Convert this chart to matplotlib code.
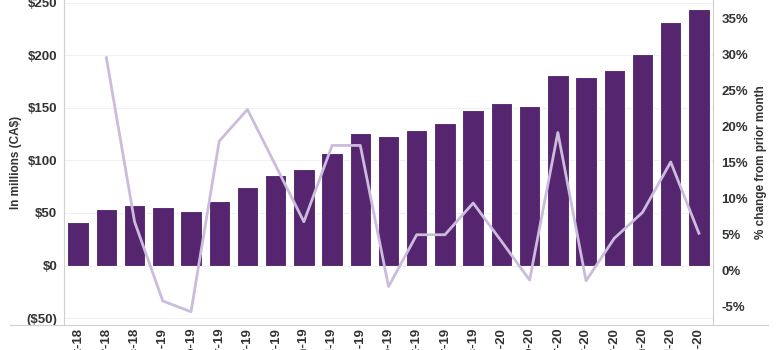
import numpy as np
import matplotlib.pyplot as plt
from matplotlib.lines import Line2D
from matplotlib.ticker import FuncFormatter

plt.rcParams['font.family'] = ['Liberation Sans Narrow', 'Liberation Sans', 'DejaVu Sans']

# Monthly values in millions (CA$) and month-over-month change (%)
months = ['Oct-18', 'Nov-18', 'Dec-18', 'Jan-19', 'Feb-19', 'Mar-19', 'Apr-19',
          'May-19', 'Jun-19', 'Jul-19', 'Aug-19', 'Sep-19', 'Oct-19', 'Nov-19',
          'Dec-19', 'Jan-20', 'Feb-20', 'Mar-20', 'Apr-20', 'May-20', 'Jun-20',
          'Jul-20', 'Aug-20']
amount = [41.4, 53.9, 57.3, 55.4, 51.7, 61.4, 74.8, 85.7, 91.6, 107.5, 126.5,
          123.1, 129.3, 135.2, 148.3, 154.2, 152.0, 181.0, 179.2, 186.3, 201.6,
          231.8, 244.0]
pct_change = [np.nan, 29.6, 6.8, -4.2, -5.7, 18.0, 22.4, 14.6, 6.8, 17.4, 17.4,
              -2.2, 5.0, 5.0, 9.4, 4.1, -1.3, 19.2, -1.4, 4.5, 8.1, 15.1, 5.2]
last_label = '$244M'

bar_color = '#55256f'
line_color = '#cbbcdc'
text_color = '#333333'

fig = plt.figure(figsize=(7.78, 3.5), dpi=100)
ax = fig.add_axes([0.0823, 0.0714, 0.8342, 0.9286])
x = np.arange(len(months))

ax.bar(x, amount, width=0.76, color=bar_color, edgecolor='white', linewidth=0.8, zorder=2)
ax.set_xlim(-0.5, len(months) - 0.5)
ax.set_ylim(-56.5, 252.5)
ax.set_yticks([-50, 0, 50, 100, 150, 200, 250])

def money(v, pos):
    return '(${:.0f})'.format(-v) if v < 0 else '${:.0f}'.format(v)

ax.yaxis.set_major_formatter(FuncFormatter(money))
ax.grid(axis='y', color='#f0f0f0', linewidth=0.8, zorder=0)
ax.axhline(0, color='#cccccc', linewidth=0.6, linestyle=':', zorder=1)
ax.set_xticks(x)
ax.set_xticklabels(months, rotation=90, fontsize=9.5, fontweight='bold', color=text_color)
ax.tick_params(axis='x', length=0, pad=2)
ax.tick_params(axis='y', length=0, pad=5, labelsize=9.5, labelcolor=text_color)
for t in ax.get_yticklabels():
    t.set_fontweight('bold')
ax.set_ylabel('In millions (CA$)', fontsize=8.5, fontweight='bold', color=text_color, labelpad=3)

for side in ['top', 'bottom', 'right']:
    ax.spines[side].set_visible(False)
ax.spines['left'].set_color('#d0d0d0')

ax.text(x[-1], amount[-1] + 8, last_label, ha='center', va='bottom',
        fontsize=9, fontweight='bold', color=text_color)

# Percent change on the secondary axis
ax2 = ax.twinx()
ax2.plot(x, pct_change, color=line_color, linewidth=2, zorder=3)
ax2.set_ylim(-7.54, 37.6)
ax2.set_yticks([-5, 0, 5, 10, 15, 20, 25, 30, 35])
ax2.yaxis.set_major_formatter(FuncFormatter(lambda v, p: '{:.0f}%'.format(v)))
ax2.tick_params(axis='y', length=0, pad=6, labelsize=9.5, labelcolor=text_color)
for t in ax2.get_yticklabels():
    t.set_fontweight('bold')
ax2.set_ylabel('% change from prior month', fontsize=8.5, fontweight='bold',
               color=text_color, rotation=90, labelpad=5)
for side in ['top', 'bottom', 'left']:
    ax2.spines[side].set_visible(False)
ax2.spines['right'].set_color('#d0d0d0')

# Baseline running under the whole chart
fig.add_artist(Line2D([0.013, 0.987], [0.0714, 0.0714], transform=fig.transFigure,
                      color='#d0d0d0', linewidth=0.8))

plt.savefig('out.png', dpi=100)
